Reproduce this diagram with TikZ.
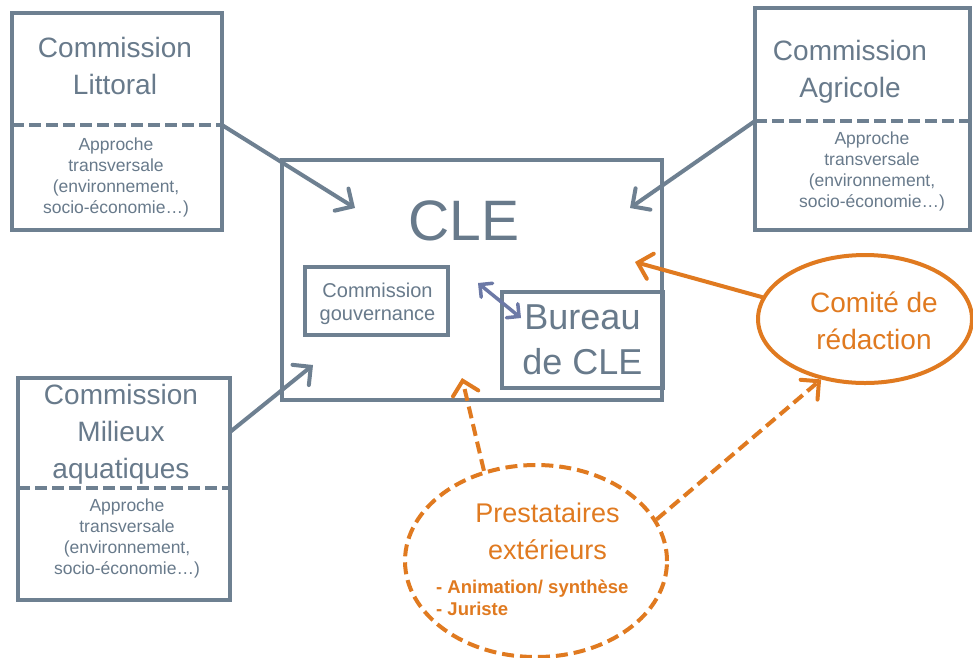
\documentclass[tikz,border=0pt]{standalone}
\usepackage{fontspec}
\setmainfont{Liberation Sans}
\usetikzlibrary{arrows.meta,shapes.geometric}
\definecolor{gb}{HTML}{6E8091}
\definecolor{gt}{HTML}{687A8B}
\definecolor{og}{HTML}{E07A20}
\definecolor{bl}{HTML}{6C79A6}
\begin{document}
\begin{tikzpicture}[x=1pt,y=-1pt,
  box/.style={draw=gb,line width=4pt,rectangle,inner sep=0pt},
  divline/.style={draw=gb,line width=4pt,dash pattern=on 12pt off 5pt},
  bigtxt/.style={text=gt,font=\fontsize{28}{37}\selectfont,align=center,inner sep=0pt},
  smalltxt/.style={text=gt,font=\fontsize{17.5}{21}\selectfont,align=center,inner sep=0pt},
  garrow/.style={draw=gb,line width=4pt,line cap=round,-{Straight Barb[length=13pt,width=26pt,line cap=round]}},
  oarrow/.style={draw=og,line width=4pt,line cap=round,-{Straight Barb[length=13pt,width=26pt,line cap=round]}},
  odarrow/.style={draw=og,line width=4pt,dash pattern=on 12pt off 6pt,-{Straight Barb[length=13pt,width=26pt,line cap=round]}},
  obox/.style={ellipse,draw=og,line width=4pt,inner sep=0pt},
  otxt/.style={text=og,font=\fontsize{28}{37}\selectfont,align=center,inner sep=0pt}
]
\useasboundingbox (0,0) rectangle (973,657);
\fill[white] (0,0) rectangle (973,657);

% Commission boxes
\node[box,minimum width=210pt,minimum height=217pt] (lit) at (117,121.5) {};
\coordinate (litdl) at (12,125);
\coordinate (litdr) at (222,125);
\draw[divline] (litdl) -- (litdr);
\node[bigtxt] (littxt) at (115,66) {Commission\\Littoral};
\node[smalltxt] (litsm) at (116,177) {Approche\\transversale\\(environnement,\\socio-économie\dots)};

\node[box,minimum width=215pt,minimum height=222pt] (agr) at (862.5,119) {};
\coordinate (agrdl) at (755,121);
\coordinate (agrdr) at (970,121);
\draw[divline] (agrdl) -- (agrdr);
\node[bigtxt] (agrtxt) at (850,72) {Commission\\Agricole};
\node[smalltxt] (agrsm) at (872,171) {Approche\\transversale\\(environnement,\\socio-économie\dots)};

\node[box,minimum width=212pt,minimum height=222pt] (mil) at (124,489) {};
\coordinate (mildl) at (18,488);
\coordinate (mildr) at (230,488);
\draw[divline] (mildl) -- (mildr);
\coordinate (milout) at (230,432);
\node[bigtxt] (miltxt) at (121,434) {Commission\\Milieux\\aquatiques};
\node[smalltxt] (milsm) at (127,538) {Approche\\transversale\\(environnement,\\socio-économie\dots)};

% CLE
\node[box,minimum width=380pt,minimum height=240pt] (cle) at (472,280) {};
\node[text=gt,font=\fontsize{57}{60}\selectfont,inner sep=0pt] (cletxt) at (464,221) {CLE};
\node[box,minimum width=143pt,minimum height=68pt] (gouv) at (376.5,301) {};
\node[text=gt,font=\fontsize{20}{23}\selectfont,align=center,inner sep=0pt] (gouvtxt) at (377.5,304) {Commission\\gouvernance};
\node[box,minimum width=161pt,minimum height=96pt] (bur) at (582.5,340) {};
\node[text=gt,font=\fontsize{36}{45}\selectfont,align=center,inner sep=0pt] (burtxt) at (582.5,340) {Bureau\\de CLE};

% ellipses
\node[obox,minimum width=214pt,minimum height=128pt] (com) at (865,319) {};
\node[otxt] (comtxt) at (874,321) {Comité de\\rédaction};
\node[obox,dash pattern=on 12pt off 6pt,minimum width=262pt,minimum height=192pt] (pre) at (536,561) {};
\node[otxt,font=\fontsize{27}{37}\selectfont] (pretxt) at (547.5,531) {Prestataires\\extérieurs};
\node[text=og,font=\bfseries\fontsize{18.5}{22}\selectfont,align=left,anchor=north west,inner sep=0pt] (prelist) at (436,580) {- Animation/ synthèse\\- Juriste};

% arrow targets
\coordinate (cleA) at (355,208);
\coordinate (cleB) at (630,208);
\coordinate (cleC) at (313,365);
\coordinate (cleD) at (635,262);
\coordinate (cleE) at (462,378);
\coordinate (dblA) at (478,283);
\coordinate (dblB) at (521,318);

\draw[garrow] (litdr) -- (cleA);
\draw[garrow] (agrdl) -- (cleB);
\draw[garrow] (milout) -- (cleC);
\draw[oarrow] (com.168) -- (cleD);
\draw[odarrow] (pre.120) -- (cleE);
\draw[odarrow] (pre.19) -- (com.234);
\draw[draw=bl,line width=3.5pt,{Straight Barb[length=9pt,width=18pt,line cap=round]}-{Straight Barb[length=9pt,width=18pt,line cap=round]}] (dblA) -- (dblB);
\end{tikzpicture}
\end{document}
